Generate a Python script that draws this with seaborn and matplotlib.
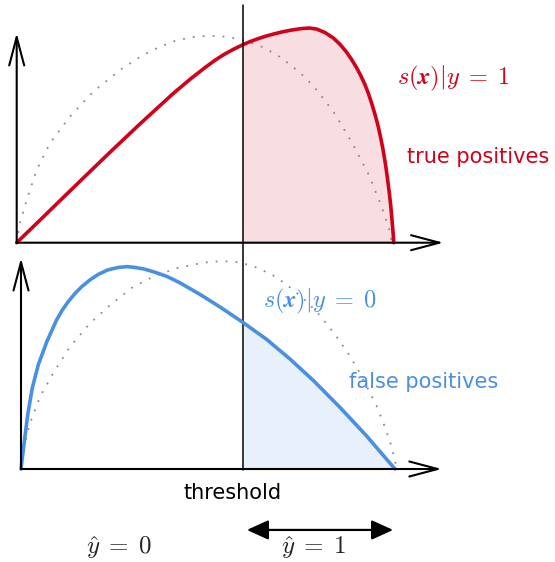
import numpy as np
import matplotlib
matplotlib.use("Agg")
import matplotlib.pyplot as plt
import seaborn as sns
from matplotlib.transforms import blended_transform_factory

# --- data (x: 0..1 along the score axis, y: relative density) ---
threshold = 0.60

pos_x = [0.0, 0.0706, 0.159, 0.247, 0.327, 0.415, 0.460, 0.504, 0.526, 0.548,
         0.574, 0.599, 0.618, 0.637, 0.659, 0.681, 0.703, 0.725, 0.742, 0.759,
         0.777, 0.796, 0.818, 0.840, 0.858, 0.875, 0.889, 0.902, 0.913, 0.924,
         0.933, 0.942, 0.951, 0.959, 0.966, 0.972, 0.978, 0.983, 0.988, 0.992,
         0.995, 0.997, 0.999, 1.0]
pos_y = [0.0, 0.124, 0.280, 0.434, 0.571, 0.717, 0.786, 0.848, 0.877, 0.903,
         0.929, 0.951, 0.966, 0.979, 0.992, 1.003, 1.013, 1.021, 1.026, 1.030,
         1.032, 1.027, 1.010, 0.984, 0.953, 0.916, 0.879, 0.840, 0.802, 0.759,
         0.717, 0.668, 0.613, 0.558, 0.500, 0.445, 0.380, 0.315, 0.245, 0.180,
         0.120, 0.077, 0.035, 0.0]

neg_x = [0.0, 0.0088, 0.0179, 0.030, 0.046, 0.069, 0.095, 0.110, 0.126, 0.144,
         0.162, 0.185, 0.207, 0.232, 0.260, 0.283, 0.305, 0.330, 0.358, 0.390,
         0.425, 0.479, 0.532, 0.594, 0.657, 0.719, 0.782, 0.853, 0.924, 1.0]
neg_y = [0.0, 0.131, 0.260, 0.388, 0.500, 0.612, 0.716, 0.763, 0.804, 0.843,
         0.876, 0.910, 0.936, 0.957, 0.969, 0.973, 0.969, 0.961, 0.946, 0.926,
         0.895, 0.839, 0.779, 0.704, 0.623, 0.529, 0.425, 0.296, 0.159, 0.0]

top_ref_x = [0.0, 0.0088, 0.0265, 0.053, 0.088, 0.141, 0.203, 0.274, 0.332, 0.376,
             0.420, 0.464, 0.511, 0.559, 0.606, 0.650, 0.691, 0.729, 0.765, 0.796,
             0.840, 0.889, 0.933, 0.968, 0.983, 0.990, 0.995]
top_ref_y = [0.0, 0.095, 0.205, 0.350, 0.478, 0.606, 0.726, 0.830, 0.899, 0.939,
             0.970, 0.988, 0.995, 0.990, 0.971, 0.942, 0.902, 0.851, 0.795, 0.734,
             0.630, 0.483, 0.330, 0.173, 0.093, 0.053, 0.0]

bot_ref_x = [0.0, 0.006, 0.024, 0.051, 0.086, 0.131, 0.184, 0.238, 0.300, 0.354,
             0.416, 0.487, 0.537, 0.586, 0.630, 0.675, 0.710, 0.755, 0.791, 0.826,
             0.853, 0.880, 0.902, 0.924, 0.951, 0.973, 0.991, 1.005]
bot_ref_y = [0.0, 0.091, 0.220, 0.348, 0.460, 0.588, 0.700, 0.788, 0.876, 0.925,
             0.965, 0.992, 1.0, 0.993, 0.969, 0.930, 0.887, 0.820, 0.755, 0.678,
             0.613, 0.541, 0.474, 0.399, 0.303, 0.202, 0.106, 0.0]

pos_label = r"$s(\boldsymbol{x})|y\;=\;1$"
neg_label = r"$s(\boldsymbol{x})|y\;=\;0$"
pos_area = "true positives"
neg_area = "false positives"
pred_labels = [r"$\hat{y}\;=\;0$", r"$\hat{y}\;=\;1$"]

RED = "#D0021B"
BLUE = "#4A90E2"

sns.set_theme(style="white")
plt.rcParams["font.family"] = ["DejaVu Sans"]
plt.rcParams["mathtext.fontset"] = "cm"

W, H = 555, 562
fig = plt.figure(figsize=(W / 100, H / 100), dpi=100)


def add_panel(x0, y0, w, h):
    # x0, y0 = pixel position of the origin, w/h = pixels per data unit
    ax = fig.add_axes([x0 / W, 1 - y0 / H, w / W, h / H])
    ax.set_xlim(0, 1)
    ax.set_ylim(0, 1)
    ax.axis("off")
    return ax


ax_top = add_panel(16.7, 242.7, 377, 208)
ax_bot = add_panel(21.0, 469.0, 374, 208)


def axis_arrows(ax, xend, yend):
    kw = dict(arrowstyle="->,head_length=1.7,head_width=0.45", lw=1.5,
              color="black", shrinkA=0, shrinkB=0)
    ax.annotate("", xy=(xend, 0), xytext=(0, 0), arrowprops=kw, annotation_clip=False)
    ax.annotate("", xy=(0, yend), xytext=(0, 0), arrowprops=kw, annotation_clip=False)


def panel(ax, x, y, rx, ry, color, thr):
    x = np.asarray(x)
    y = np.asarray(y)
    sns.lineplot(x=rx, y=ry, ax=ax, color="#8a8a8a", lw=1.3,
                 linestyle=(0, (1, 4.5)), clip_on=False)
    # shaded area right of the threshold
    yt = np.interp(thr, x, y)
    m = x > thr
    fx = np.concatenate([[thr], x[m]])
    fy = np.concatenate([[yt], y[m]])
    ax.fill_between(fx, 0, fy, color=color, alpha=0.13, lw=0, clip_on=False)
    sns.lineplot(x=x, y=y, ax=ax, color=color, lw=2.6, clip_on=False,
                 solid_capstyle="round", solid_joinstyle="round")


# the threshold is one vertical line; find where it sits in the lower panel's units
thr_px = ax_top.transData.transform((threshold, 0))
thr_bot = ax_bot.transData.inverted().transform(thr_px)[0]

panel(ax_top, pos_x, pos_y, top_ref_x, top_ref_y, RED, threshold)
panel(ax_bot, neg_x, neg_y, bot_ref_x, bot_ref_y, BLUE, thr_bot)
axis_arrows(ax_top, 1.132, 1.008)
axis_arrows(ax_bot, 1.125, 1.014)

# threshold line running through both panels
tr = blended_transform_factory(ax_top.transData, fig.transFigure)
ax_top.plot([threshold, threshold], [1 - 470 / H, 1 - 5 / H], color="black",
            lw=1.1, transform=tr, clip_on=False)

ax_top.text(1.01, 0.792, pos_label, color=RED, fontsize=17.5, va="center", ha="left")
ax_top.text(1.036, 0.412, pos_area, color=RED, fontsize=15, va="center", ha="left")
ax_bot.text(0.647, 0.806, neg_label, color=BLUE, fontsize=17.5, va="center", ha="left")
ax_bot.text(0.877, 0.418, neg_area, color=BLUE, fontsize=15, va="center", ha="left")
ax_bot.text(0.565, -0.116, "threshold", color="black", fontsize=15, va="center", ha="center")

ax_bot.annotate("", xy=(0.995, -0.293), xytext=(0.604, -0.293),
                arrowprops=dict(arrowstyle="<|-|>,head_length=1.1,head_width=0.5",
                                lw=1.6, color="black", shrinkA=0, shrinkB=0),
                annotation_clip=False)
ax_bot.text(0.263, -0.379, pred_labels[0], fontsize=18, va="center", ha="center")
ax_bot.text(0.783, -0.379, pred_labels[1], fontsize=18, va="center", ha="center")

fig.savefig("out.png", dpi=100)
